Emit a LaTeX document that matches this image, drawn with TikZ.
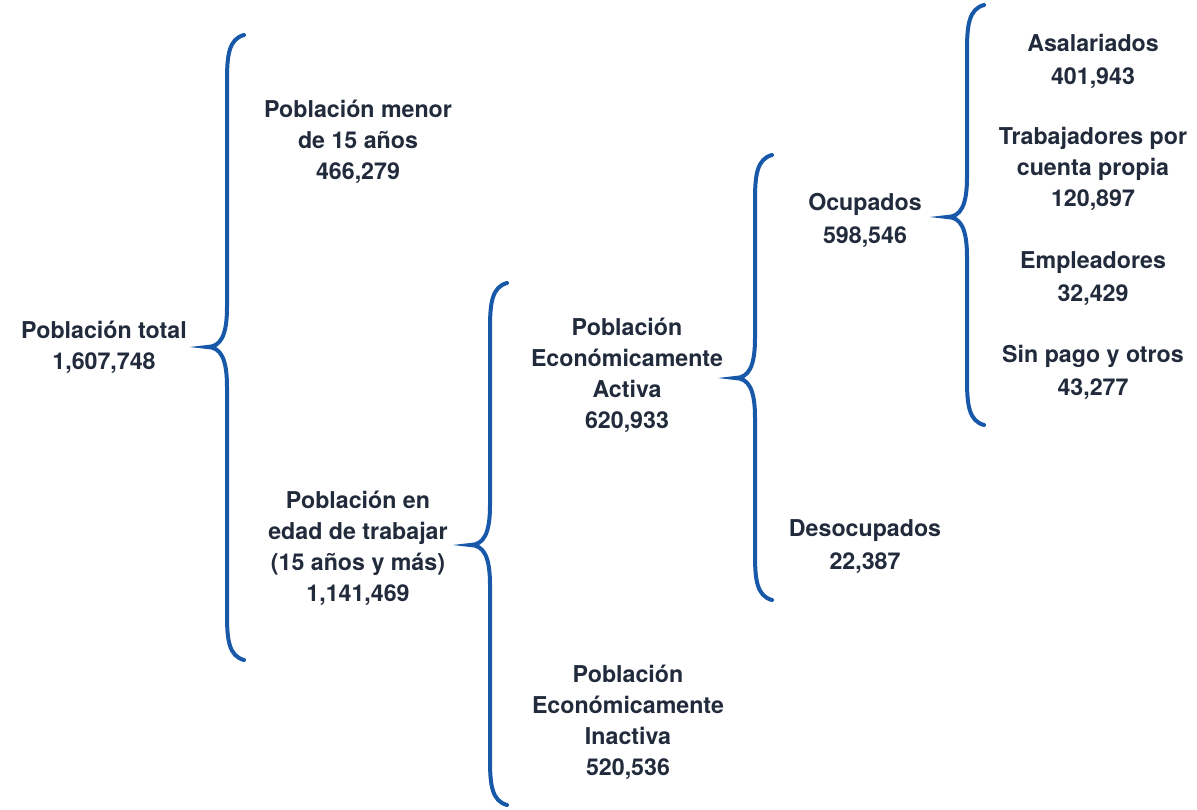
\documentclass[tikz,border=0pt]{standalone}
\usepackage{fontspec}
\setmainfont{TeX Gyre Heros}
\definecolor{txt}{RGB}{33,43,60}
\definecolor{bracecol}{RGB}{24,88,168}
% curly brace: #1 x of the stem, #2 top y, #3 tip y, #4 bottom y
\newcommand{\curlybrace}[4]{%
  \draw[brc] (#1+17,#2) .. controls (#1+2,#2+4) and (#1,#2+20) .. (#1,#2+45)
    -- (#1,#3-40) .. controls (#1,#3-12) and (#1-6,#3) .. (#1-20,#3)
    .. controls (#1-6,#3) and (#1,#3+12) .. (#1,#3+40)
    -- (#1,#4-45) .. controls (#1,#4-20) and (#1+2,#4-4) .. (#1+17,#4);}
\begin{document}
\begin{tikzpicture}[x=0.5pt, y=-0.5pt,
    lbl/.style = {align=center, inner sep=0pt, text=txt, font=\fontsize{11.6}{15.5}\selectfont\bfseries},
    lbltwo/.style = {lbl, font=\fontsize{11.6}{16.5}\selectfont\bfseries},
    brc/.style = {draw=bracecol, line width=2pt, line cap=round}]
    \useasboundingbox (0,0) rectangle (1197,809);
    \node[lbl] (total) at (104,347) {Población total\\1,607,748};
    \node[lbl] (menor) at (358,142) {Población menor\\de 15 años\\466,279};
    \node[lbl] (pet) at (358,548) {Población en\\edad de trabajar\\(15 años y más)\\1,141,469};
    \node[lbl] (pea) at (627,375) {Población\\Económicamente\\Activa\\620,933};
    \node[lbl] (pei) at (628,722) {Población\\Económicamente\\Inactiva\\520,536};
    \node[lbltwo] (ocup) at (865,220) {Ocupados\\598,546};
    \node[lbltwo] (desoc) at (865,547) {Desocupados\\22,387};
    \node[lbltwo] (asal) at (1093,61) {Asalariados\\401,943};
    \node[lbl] (cpropia) at (1093,169) {Trabajadores por\\cuenta propia\\120,897};
    \node[lbltwo] (empl) at (1093,279) {Empleadores\\32,429};
    \node[lbltwo] (sinpago) at (1093,372) {Sin pago y otros\\43,277};
    % braces
    \curlybrace{227}{35}{347}{660}
    \curlybrace{490}{283}{545}{805}
    \curlybrace{755}{155}{378}{600}
    \curlybrace{967}{5}{217}{425}
\end{tikzpicture}
\end{document}
